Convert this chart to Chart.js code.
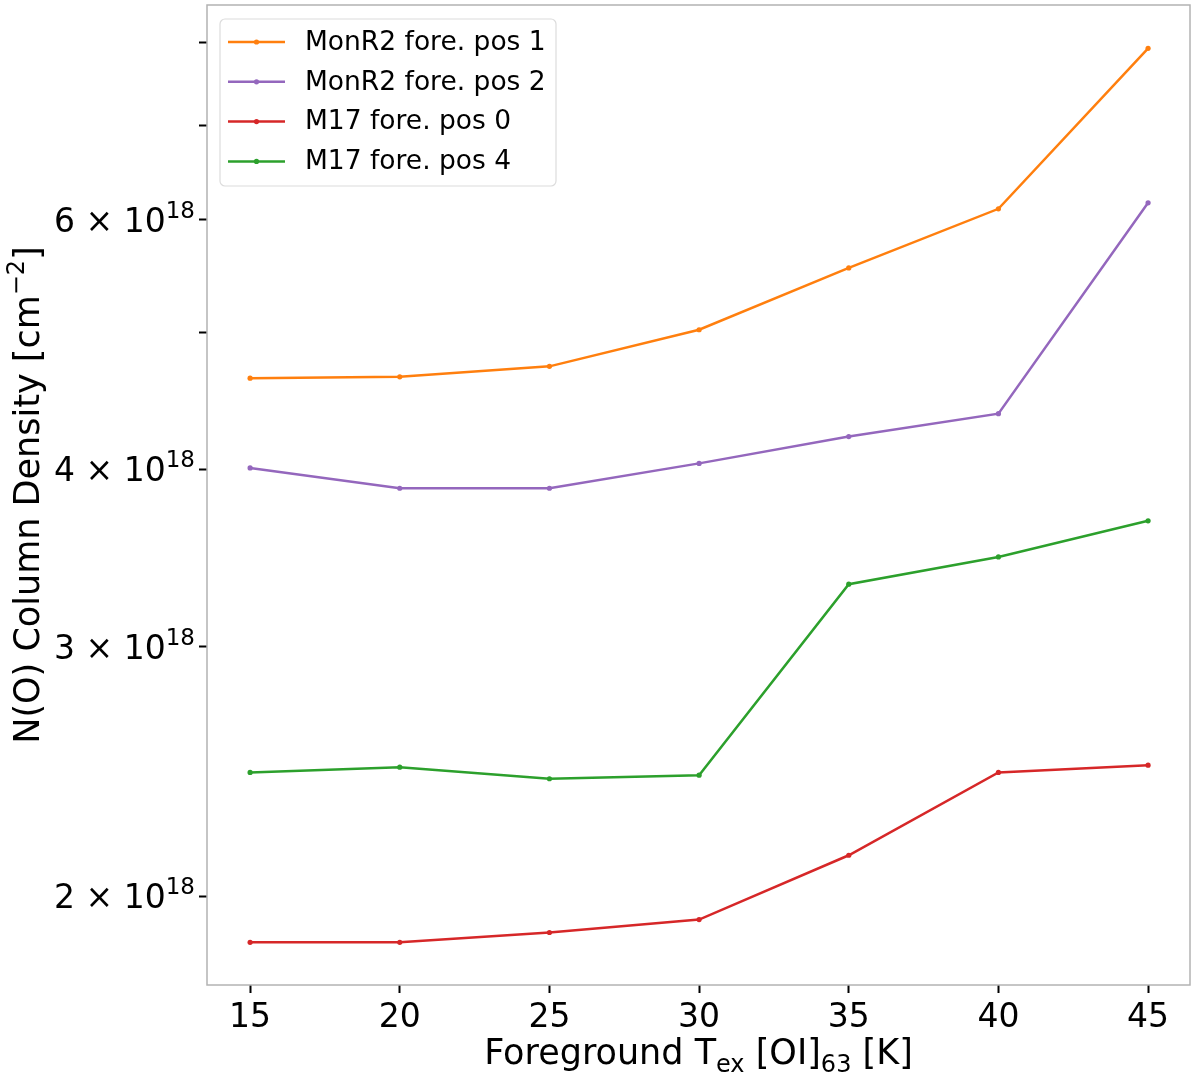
<!DOCTYPE html>
<html>
<head>
<meta charset="utf-8">
<script src="https://cdn.jsdelivr.net/npm/chart.js@4.4.1/dist/chart.umd.min.js"></script>
<style>
  body { margin: 0; background: #fff; }
  canvas { display: block; }
</style>
</head>
<body>
<canvas id="chart" width="1200" height="1077"></canvas>
<script>
// data
const temps = [15, 20, 25, 30, 35, 40, 45];
const monR2pos1 = [4.64e18, 4.65e18, 4.73e18, 5.02e18, 5.55e18, 6.11e18, 7.93e18];
const monR2pos2 = [4.01e18, 3.88e18, 3.88e18, 4.04e18, 4.22e18, 4.38e18, 6.17e18];
const m17pos0 = [1.855e18, 1.855e18, 1.885e18, 1.925e18, 2.137e18, 2.445e18, 2.474e18];
const m17pos4 = [2.445e18, 2.466e18, 2.42e18, 2.434e18, 3.32e18, 3.47e18, 3.68e18];

const seriesNames = ["MonR2 fore. pos 1", "MonR2 fore. pos 2", "M17 fore. pos 0", "M17 fore. pos 4"];
const seriesColors = ["#ff7f0e", "#9467bd", "#d62728", "#2ca02c"];

const xTicks = [15, 20, 25, 30, 35, 40, 45];
const yTicks = [2, 3, 4, 5, 6, 7, 8];        // x 10^18
const yLabelled = [2, 3, 4, 6];

const FONT = "'DejaVu Sans', sans-serif";

function toPoints(vals) {
  return temps.map((t, i) => ({ x: t, y: vals[i] }));
}

// draws text made of pieces, some raised or lowered (super / subscripts)
function drawRich(ctx, parts, x, y, align) {
  let w = 0;
  parts.forEach(p => {
    ctx.font = p.size + "px " + FONT;
    p.w = ctx.measureText(p.t).width;
    w += p.w;
  });
  let cx = x;
  if (align === "right") cx = x - w;
  if (align === "center") cx = x - w / 2;
  ctx.textAlign = "left";
  ctx.textBaseline = "alphabetic";
  parts.forEach(p => {
    ctx.font = p.size + "px " + FONT;
    ctx.fillText(p.t, cx, y + (p.dy || 0));
    cx += p.w;
  });
}

const mplLook = {
  id: "mplLook",
  afterDraw(chart) {
    const ctx = chart.ctx;
    const a = chart.chartArea;
    const xs = chart.scales.x;
    const ys = chart.scales.y;
    ctx.save();

    // frame
    ctx.strokeStyle = "#b3b3b3";
    ctx.lineWidth = 1.5;
    ctx.strokeRect(a.left, a.top, a.right - a.left, a.bottom - a.top);

    ctx.fillStyle = "#000";
    // y tick labels
    yLabelled.forEach(m => {
      const py = ys.getPixelForValue(m * 1e18);
      drawRich(ctx, [
        { t: m + " \u00d7 10", size: 33 },
        { t: "18", size: 23, dy: -14 }
      ], a.left - 12, py + 12, "right");
    });
    // x tick labels
    xTicks.forEach(v => {
      const px = xs.getPixelForValue(v);
      drawRich(ctx, [{ t: String(v), size: 33 }], px, a.bottom + 42, "center");
    });

    // x title
    drawRich(ctx, [
      { t: "Foreground T", size: 35 },
      { t: "ex", size: 24, dy: 8 },
      { t: " [OI]", size: 35 },
      { t: "63", size: 24, dy: 8 },
      { t: " [K]", size: 35 }
    ], (a.left + a.right) / 2, 1064, "center");

    // y title
    ctx.save();
    ctx.translate(39, (a.top + a.bottom) / 2);
    ctx.rotate(-Math.PI / 2);
    drawRich(ctx, [
      { t: "N(O) Column Density [cm", size: 35 },
      { t: "\u22122", size: 24, dy: -15 },
      { t: "]", size: 35 }
    ], 0, 0, "center");
    ctx.restore();

    // legend
    const lx = 220, ly = 19, lw = 336, lh = 167;
    ctx.fillStyle = "rgba(255,255,255,0.8)";
    ctx.strokeStyle = "#dcdcdc";
    ctx.lineWidth = 1.2;
    ctx.beginPath();
    ctx.roundRect(lx, ly, lw, lh, 5);
    ctx.fill();
    ctx.stroke();
    seriesNames.forEach((name, i) => {
      const ry = 42 + i * 39.8;
      ctx.strokeStyle = seriesColors[i];
      ctx.lineWidth = 2.5;
      ctx.beginPath();
      ctx.moveTo(228, ry);
      ctx.lineTo(285, ry);
      ctx.stroke();
      ctx.fillStyle = seriesColors[i];
      ctx.beginPath();
      ctx.arc(256.5, ry, 2.6, 0, Math.PI * 2);
      ctx.fill();
      ctx.fillStyle = "#000";
      ctx.font = "26.5px " + FONT;
      ctx.textAlign = "left";
      ctx.textBaseline = "middle";
      ctx.fillText(name, 305, ry + 1);
    });
    ctx.restore();
  }
};

const allSeries = [monR2pos1, monR2pos2, m17pos0, m17pos4];

new Chart(document.getElementById("chart"), {
  type: "line",
  data: {
    datasets: allSeries.map((vals, i) => ({
      label: seriesNames[i],
      data: toPoints(vals),
      borderColor: seriesColors[i],
      backgroundColor: seriesColors[i],
      borderWidth: 2.5,
      pointRadius: 2.6,
      pointBorderWidth: 0,
      tension: 0,
      fill: false
    }))
  },
  options: {
    responsive: false,
    animation: false,
    devicePixelRatio: 1,
    layout: { padding: { left: 0, top: 5, right: 10, bottom: 0 } },
    plugins: { legend: { display: false }, tooltip: { enabled: false } },
    scales: {
      x: {
        type: "linear",
        min: 13.56,
        max: 46.4,
        afterBuildTicks: s => { s.ticks = xTicks.map(v => ({ value: v })); },
        afterFit: s => { s.height = 92; },
        ticks: { display: false },
        border: { display: false },
        grid: { drawOnChartArea: false, drawTicks: true, tickLength: 8, tickWidth: 2, tickColor: "#000" }
      },
      y: {
        type: "logarithmic",
        min: 1.7308e18,
        max: 8.509e18,
        afterBuildTicks: s => { s.ticks = yTicks.map(v => ({ value: v * 1e18 })); },
        afterFit: s => { s.width = 207; },
        ticks: { display: false },
        border: { display: false },
        grid: { drawOnChartArea: false, drawTicks: true, tickLength: 8, tickWidth: 2, tickColor: "#000" }
      }
    }
  },
  plugins: [mplLook]
});
</script>
</body>
</html>
